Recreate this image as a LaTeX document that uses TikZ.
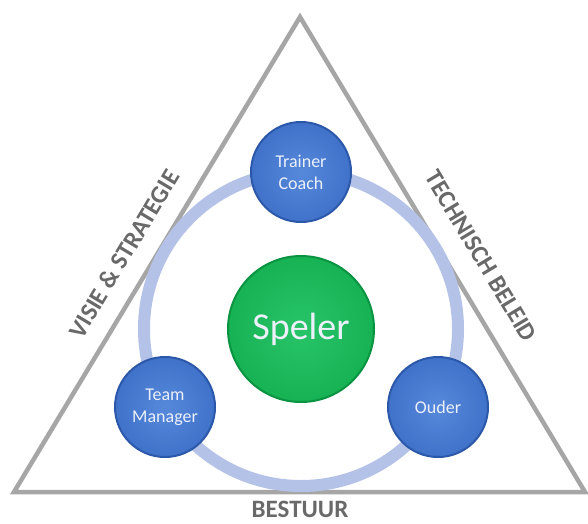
\documentclass[tikz,border=0pt]{standalone}
\usepackage{fontspec}
\setmainfont{Carlito}
\definecolor{trigray}{RGB}{166,166,166}
\definecolor{lblgray}{RGB}{105,105,105}
\definecolor{ringblue}{RGB}{180,194,232}
\definecolor{ballblue}{RGB}{64,114,202}
\definecolor{ballrim}{RGB}{44,88,170}
\definecolor{ballin}{RGB}{86,136,218}
\definecolor{ballgreen}{RGB}{22,178,84}
\definecolor{greenrim}{RGB}{10,148,66}
\definecolor{greenin}{RGB}{40,196,104}
\definecolor{balltext}{RGB}{235,240,250}
\tikzset{
  tri/.style={draw=trigray, line width=4.5pt, line join=miter},
  ringline/.style={draw=ringblue, line width=12pt},
  blueball/.style={circle, minimum size=100pt, inner sep=0pt, align=center,
    inner color=ballin, outer color=ballblue, draw=ballrim, line width=2pt,
    text=balltext, font=\fontsize{18}{22}\selectfont},
  greenball/.style={circle, minimum size=146pt, inner sep=0pt,
    inner color=greenin, outer color=ballgreen, draw=greenrim, line width=2pt,
    text=balltext, font=\fontsize{38}{44}\selectfont},
  lbl/.style={text=lblgray, font=\bfseries\fontsize{25}{28}\selectfont, inner sep=0pt}
}
\begin{document}
\begin{tikzpicture}[x=1pt,y=-1pt]
\useasboundingbox (0,0) rectangle (588,523);
\coordinate (A) at (300,17);
\coordinate (B) at (14,492);
\coordinate (C) at (585,492);
\draw[tri] (A) -- (B) -- (C) -- cycle;
\coordinate (O) at (301,329);
\draw[ringline] (O) circle (157pt);
\node[greenball] (speler) at (O) {Speler};
\node[blueball] (trainer) at (301,172) {Trainer\\Coach};
\node[blueball] (team) at (165,407) {Team\\Manager};
\node[blueball] (ouder) at (438,407) {Ouder};
\node[lbl, rotate=59] (visie) at (124,254) {VISIE \& STRATEGIE};
\node[lbl, rotate=-59] (tech) at (481,256) {TECHNISCH BELEID};
\node[lbl] (bestuur) at (300,509) {BESTUUR};
\end{tikzpicture}
\end{document}
